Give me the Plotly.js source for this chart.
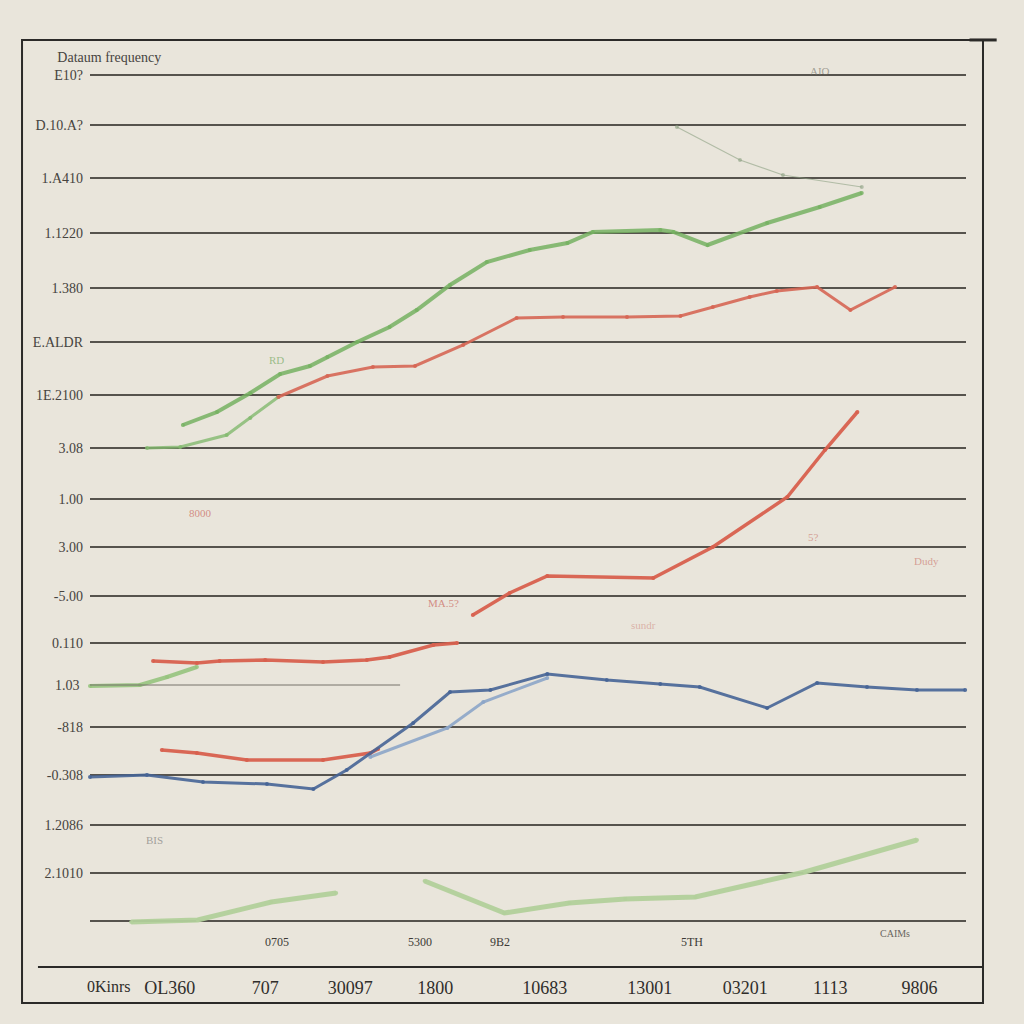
<!DOCTYPE html>
<html>
<head>
<meta charset="utf-8">
<script src="https://cdn.plot.ly/plotly-3.0.1.min.js"></script>
<style>
  body { margin: 0; background: #e9e5db; }
  #chart { width: 1024px; height: 1024px; }
</style>
</head>
<body>
<div id="chart"></div>
<script>
// values (x: 0..100 across the grid, y: grid units)
var greenUpperX = [10.6, 14.5, 18.3, 21.7, 25.1, 27.1, 30.5, 34.2, 37.3, 41.1, 45.3, 50.2, 54.5, 57.4, 65.1, 66.6, 70.5, 77.3, 83.3, 88.1];
var greenUpperY = [49.6, 50.9, 52.8, 54.7, 55.5, 56.4, 57.9, 59.4, 61.1, 63.6, 65.9, 67.1, 67.8, 68.9, 69.1, 68.9, 67.6, 69.8, 71.4, 72.8];
var greenLowX = [6.5, 10.3, 15.6, 18.3, 21.5];
var greenLowY = [47.3, 47.4, 48.6, 50.3, 52.4];
var greenFaintX = [88.1, 79.1, 74.2, 67.0];
var greenFaintY = [73.4, 74.6, 76.1, 79.4];
var redUpperX = [21.5, 27.1, 32.3, 37.1, 42.6, 48.7, 54.0, 61.3, 67.4, 71.1, 75.3, 78.4, 83.0, 86.8, 91.9];
var redUpperY = [52.4, 54.5, 55.4, 55.5, 57.6, 60.3, 60.4, 60.4, 60.5, 61.4, 62.4, 63.0, 63.4, 61.1, 63.4];
var redMidX = [43.7, 47.9, 52.2, 64.3, 71.1, 79.6, 83.9, 87.6];
var redMidY = [30.6, 32.8, 34.5, 34.3, 37.4, 42.4, 47.1, 50.9];
var redFlatX = [7.2, 12.2, 14.8, 20.0, 26.6, 31.6, 34.2, 39.2, 41.9];
var redFlatY = [26.0, 25.8, 26.0, 26.1, 25.9, 26.1, 26.4, 27.6, 27.8];
var greenShortX = [0, 5.7, 8.8, 12.2];
var greenShortY = [23.5, 23.6, 24.4, 25.4];
var redLowX = [8.2, 12.2, 17.9, 26.6, 32.0, 32.9];
var redLowY = [17.1, 16.8, 16.1, 16.1, 16.8, 17.2];
var blueX = [0, 6.5, 12.9, 20.2, 25.5, 29.3, 36.9, 41.1, 45.7, 52.2, 59.0, 65.1, 69.6, 77.3, 83.0, 88.7, 94.4, 99.9];
var blueY = [14.4, 14.6, 13.9, 13.7, 13.2, 15.1, 19.8, 22.9, 23.1, 24.7, 24.1, 23.7, 23.4, 21.3, 23.8, 23.4, 23.1, 23.1];
var blueLightX = [32.0, 40.8, 44.9, 52.2];
var blueLightY = [16.4, 19.3, 21.9, 24.3];
var greenBottomAX = [4.7, 12.3, 20.7, 28.1];
var greenBottomAY = [-0.1, 0.1, 1.9, 2.8];
var greenBottomBX = [38.2, 47.3, 54.7, 61.1, 69.1, 81.6, 94.4];
var greenBottomBY = [4.0, 0.8, 1.8, 2.2, 2.4, 4.9, 8.1];

var yTickVals = [84.6, 79.6, 74.3, 68.8, 63.3, 57.9, 52.6, 47.3, 42.2, 37.4, 32.5, 27.8, 19.4, 14.6, 9.6, 4.8, 0];
var yTickText = ['E10?', 'D.10.A?', '1.A410', '1.1220', '1.380', 'E.ALDR', '1E.2100', '3.08', '1.00', '3.00', '-5.00', '0.110', '-818', '-0.308', '1.2086', '2.1010', ''];
var xTickVals = [9.1, 20.0, 29.7, 39.4, 51.9, 63.9, 74.8, 84.5, 94.7];
var xTickText = ['OL360', '707', '30097', '1800', '10683', '13001', '03201', '1113', '9806'];

function line(x, y, color, width) {
    return {
        x: x, y: y,
        type: 'scatter',
        mode: 'lines+markers',
        line: {color: color, width: width},
        marker: {color: color, size: 4},
        hoverinfo: 'skip',
        showlegend: false,
        cliponaxis: false
    };
}

var data = [
    line(greenFaintX, greenFaintY, 'rgba(140,160,130,0.6)', 1.2),
    line(greenUpperX, greenUpperY, 'rgba(118,178,98,0.85)', 4),
    line(greenLowX, greenLowY, 'rgba(130,185,110,0.8)', 3),
    line(redUpperX, redUpperY, 'rgba(214,102,84,0.9)', 3),
    line(redMidX, redMidY, 'rgba(216,96,78,0.95)', 3.5),
    line(redFlatX, redFlatY, 'rgba(216,96,78,0.95)', 3.5),
    line(greenShortX, greenShortY, 'rgba(150,195,125,0.9)', 4),
    line(redLowX, redLowY, 'rgba(216,96,78,0.95)', 3.5),
    line(blueLightX, blueLightY, 'rgba(140,165,200,0.9)', 3),
    line(blueX, blueY, 'rgba(70,100,150,0.9)', 3),
    line(greenBottomAX, greenBottomAY, 'rgba(178,208,155,0.95)', 5),
    line(greenBottomBX, greenBottomBY, 'rgba(178,208,155,0.95)', 5)
];

var lbl = {family: 'Liberation Serif', size: 14, color: '#46433e'};
var faint = function(x, y, t, c) {
    return {x: x, y: y, xref: 'x', yref: 'y', text: t, showarrow: false,
            font: {family: 'Liberation Serif', size: 11, color: c}};
};

var layout = {
    width: 1024,
    height: 1024,
    paper_bgcolor: '#e9e5db',
    plot_bgcolor: '#e9e5db',
    margin: {l: 90, r: 58, t: 55, b: 79},
    title: {
        text: 'Dataum frequency',
        x: 0.056, xref: 'container', xanchor: 'left',
        y: 0.944, yref: 'container', yanchor: 'middle',
        font: {family: 'Liberation Serif', size: 14, color: '#46433e'}
    },
    xaxis: {
        range: [0, 100],
        showgrid: false, zeroline: false, showline: false,
        tickvals: xTickVals, ticktext: xTickText,
        ticks: '', ticklabelstandoff: 30,
        tickfont: {family: 'Liberation Serif', size: 18, color: '#2f2d2a'},
        fixedrange: true
    },
    yaxis: {
        range: [-2.4, 86.6],
        showgrid: true, gridcolor: '#56534d', gridwidth: 1.5,
        zeroline: false, showline: false,
        tickvals: yTickVals, ticktext: yTickText,
        ticks: '', ticklabelstandoff: 6,
        tickfont: lbl,
        fixedrange: true
    },
    shapes: [
        {type: 'rect', xref: 'paper', yref: 'paper', x0: -0.0776, x1: 1.0194, y0: -0.0652, y1: 1.0169,
         line: {color: '#2b2a28', width: 2}},
        {type: 'line', xref: 'paper', yref: 'paper', x0: -0.0594, x1: 1.0194, y0: -0.0247, y1: -0.0247,
         line: {color: '#2b2a28', width: 2}},
        {type: 'line', xref: 'x', yref: 'y', x0: 0, x1: 35.4, y0: 23.6, y1: 23.6,
         line: {color: '#77736b', width: 1}},
        {type: 'line', xref: 'paper', yref: 'paper', x0: 1.004, x1: 1.035, y0: 1.0169, y1: 1.0169,
         line: {color: '#2b2a28', width: 3}}
    ],
    annotations: [
        {x: 0, y: 23.6, xref: 'paper', yref: 'y', xanchor: 'right', xshift: -8, text: '1.03',
         showarrow: false, font: lbl},
        {x: -0.0057, y: -0.047, xref: 'paper', yref: 'paper', yanchor: 'middle', text: '0Kinrs',
         showarrow: false, font: {family: 'Liberation Serif', size: 16, color: '#2f2d2a'}},
        {x: 21.4, y: -2.1, xref: 'x', yref: 'y', text: '0705', showarrow: false,
         font: {family: 'Liberation Serif', size: 12, color: '#3c3a36'}},
        {x: 37.7, y: -2.1, xref: 'x', yref: 'y', text: '5300', showarrow: false,
         font: {family: 'Liberation Serif', size: 12, color: '#3c3a36'}},
        {x: 46.8, y: -2.1, xref: 'x', yref: 'y', text: '9B2', showarrow: false,
         font: {family: 'Liberation Serif', size: 12, color: '#3c3a36'}},
        {x: 68.7, y: -2.1, xref: 'x', yref: 'y', text: '5TH', showarrow: false,
         font: {family: 'Liberation Serif', size: 12, color: '#3c3a36'}},
        {x: 91.9, y: -1.2, xref: 'x', yref: 'y', text: 'CAIMs', showarrow: false,
         font: {family: 'Liberation Serif', size: 10, color: '#6a6660'}},
        faint(12.6, 40.8, '8000', 'rgba(200,100,90,0.7)'),
        faint(40.4, 31.8, 'MA.5?', 'rgba(200,100,90,0.7)'),
        faint(63.2, 29.6, 'sundr', 'rgba(200,110,100,0.45)'),
        faint(21.3, 56.1, 'RD', 'rgba(120,170,100,0.7)'),
        faint(83.3, 85.0, 'AIO', 'rgba(110,110,100,0.6)'),
        faint(95.5, 36.0, 'Dudy', 'rgba(200,110,100,0.6)'),
        faint(82.6, 38.4, '5?', 'rgba(200,110,100,0.6)'),
        faint(7.4, 8.1, 'BIS', 'rgba(110,110,110,0.6)')
    ]
};

Plotly.newPlot('chart', data, layout, {displayModeBar: false, staticPlot: true});
</script>
</body>
</html>
